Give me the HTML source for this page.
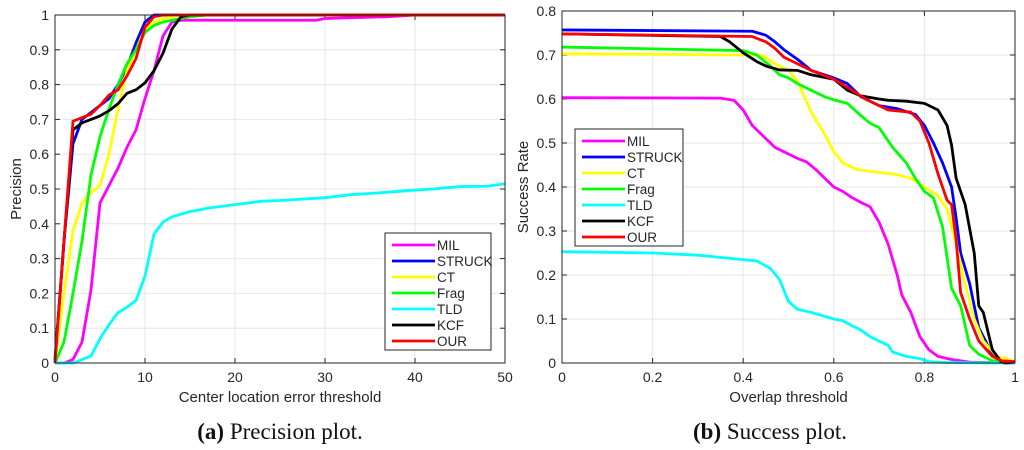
<!DOCTYPE html>
<html><head><meta charset="utf-8"><style>
html,body{margin:0;padding:0;background:#fff;width:1024px;height:450px;overflow:hidden}
svg{display:block}
</style></head><body>
<svg id="root" width="1024" height="450" xmlns="http://www.w3.org/2000/svg" font-family="Liberation Sans, sans-serif">
<g id="pa"></g>
<g id="pb"></g>
<text x="280" y="439" text-anchor="middle" font-family="Liberation Serif, serif" font-size="23" fill="#111"><tspan font-weight="bold">(a)</tspan> Precision plot.</text>
<text x="770" y="439" text-anchor="middle" font-family="Liberation Serif, serif" font-size="23" fill="#111"><tspan font-weight="bold">(b)</tspan> Success plot.</text>
</svg>
<script>
const seriesNames=["MIL","STRUCK","CT","Frag","TLD","KCF","OUR"];
const seriesColors=["#ff00ff","#0000ff","#ffff00","#00ff00","#00ffff","#000000","#ff0000"];
const precTicksX=[0,10,20,30,40,50];
const precTicksY=[0,0.1,0.2,0.3,0.4,0.5,0.6,0.7,0.8,0.9,1];
const precMIL=[[0,0],[1,0],[2,0.01],[3,0.06],[4,0.21],[5,0.46],[6,0.51],[7,0.56],[8,0.62],[9,0.67],[10,0.76],[11,0.84],[12,0.94],[13,0.98],[14,0.985],[29,0.985],[30,0.99],[37,0.995],[40,1],[50,1]];
const precSTRUCK=[[0,0],[1,0.35],[2,0.63],[3,0.70],[4,0.72],[5,0.74],[6,0.76],[7,0.80],[8,0.85],[9,0.92],[10,0.98],[11,1],[50,1]];
const precCT=[[0,0],[1,0.2],[2,0.38],[3,0.46],[4,0.49],[5,0.51],[6,0.60],[7,0.73],[8,0.84],[9,0.90],[10,0.96],[11,0.98],[12,0.99],[14,1],[50,1]];
const precFrag=[[0,0],[1,0.06],[2,0.2],[3,0.35],[4,0.54],[5,0.65],[6,0.73],[7,0.80],[8,0.86],[9,0.90],[10,0.95],[11,0.97],[12,0.98],[13,0.985],[15,0.995],[17,1],[50,1]];
const precTLD=[[0,0],[2,0],[4,0.02],[5,0.07],[6,0.11],[7,0.145],[8,0.16],[9,0.18],[10,0.25],[11,0.37],[12,0.405],[13,0.42],[15,0.435],[17,0.445],[20,0.455],[23,0.465],[25,0.467],[30,0.475],[33,0.484],[35,0.487],[40,0.497],[42,0.5],[45,0.507],[48,0.508],[50,0.515]];
const precKCF=[[0,0.01],[1,0.35],[2,0.67],[3,0.69],[4,0.70],[5,0.71],[6,0.725],[7,0.745],[8,0.775],[9,0.785],[10,0.805],[11,0.84],[12,0.89],[13,0.96],[14,0.995],[15,1],[50,1]];
const precOUR=[[0,0],[1,0.35],[2,0.695],[3,0.705],[4,0.715],[5,0.74],[6,0.77],[7,0.785],[8,0.825],[9,0.875],[10,0.965],[11,0.995],[12,1],[50,1]];
const succTicksX=[0,0.2,0.4,0.6,0.8,1];
const succTicksY=[0,0.1,0.2,0.3,0.4,0.5,0.6,0.7,0.8];
const succMIL=[[0,0.603],[0.35,0.602],[0.38,0.597],[0.40,0.575],[0.42,0.54],[0.45,0.51],[0.47,0.49],[0.5,0.475],[0.52,0.465],[0.54,0.457],[0.56,0.44],[0.58,0.42],[0.6,0.40],[0.62,0.39],[0.64,0.376],[0.66,0.365],[0.68,0.355],[0.7,0.32],[0.72,0.27],[0.74,0.2],[0.75,0.155],[0.77,0.115],[0.79,0.06],[0.81,0.03],[0.83,0.015],[0.86,0.008],[0.9,0.002],[1,0]];
const succSTRUCK=[[0,0.757],[0.42,0.754],[0.45,0.745],[0.47,0.73],[0.49,0.712],[0.52,0.69],[0.55,0.665],[0.6,0.648],[0.63,0.635],[0.66,0.605],[0.7,0.585],[0.74,0.578],[0.78,0.565],[0.8,0.54],[0.82,0.5],[0.84,0.455],[0.86,0.4],[0.87,0.33],[0.88,0.25],[0.9,0.18],[0.92,0.08],[0.95,0.02],[0.97,0.005],[1,0]];
const succCT=[[0,0.703],[0.4,0.70],[0.44,0.70],[0.47,0.68],[0.5,0.665],[0.52,0.64],[0.55,0.57],[0.58,0.52],[0.6,0.48],[0.62,0.455],[0.65,0.44],[0.7,0.433],[0.73,0.43],[0.77,0.42],[0.8,0.40],[0.83,0.38],[0.85,0.35],[0.87,0.27],[0.89,0.18],[0.91,0.1],[0.93,0.05],[0.96,0.015],[0.98,0.01],[1,0.003]];
const succFrag=[[0,0.718],[0.4,0.71],[0.43,0.70],[0.46,0.675],[0.48,0.655],[0.5,0.648],[0.52,0.635],[0.55,0.62],[0.58,0.605],[0.6,0.598],[0.63,0.59],[0.66,0.562],[0.68,0.545],[0.7,0.535],[0.73,0.49],[0.76,0.455],[0.78,0.42],[0.8,0.39],[0.82,0.375],[0.84,0.31],[0.86,0.17],[0.88,0.13],[0.9,0.04],[0.92,0.02],[0.95,0.005],[1,0.002]];
const succTLD=[[0,0.253],[0.2,0.25],[0.3,0.245],[0.4,0.235],[0.43,0.232],[0.46,0.215],[0.48,0.19],[0.5,0.14],[0.52,0.122],[0.55,0.115],[0.6,0.10],[0.62,0.096],[0.64,0.085],[0.66,0.075],[0.68,0.06],[0.7,0.05],[0.72,0.04],[0.73,0.025],[0.76,0.015],[0.79,0.01],[0.81,0.003],[0.85,0.001],[1,0]];
const succKCF=[[0,0.748],[0.35,0.742],[0.37,0.73],[0.4,0.705],[0.43,0.685],[0.45,0.675],[0.48,0.666],[0.52,0.665],[0.55,0.655],[0.6,0.645],[0.63,0.62],[0.66,0.607],[0.7,0.60],[0.72,0.597],[0.76,0.595],[0.8,0.59],[0.83,0.575],[0.85,0.54],[0.86,0.495],[0.87,0.42],[0.89,0.36],[0.91,0.25],[0.92,0.13],[0.93,0.115],[0.95,0.03],[0.97,0.002],[0.98,0],[1,0.002]];
const succOUR=[[0,0.748],[0.42,0.742],[0.45,0.73],[0.47,0.715],[0.49,0.695],[0.51,0.685],[0.55,0.665],[0.6,0.645],[0.64,0.62],[0.67,0.6],[0.7,0.585],[0.72,0.575],[0.77,0.57],[0.79,0.55],[0.81,0.5],[0.83,0.43],[0.85,0.37],[0.86,0.36],[0.87,0.28],[0.88,0.16],[0.9,0.1],[0.92,0.05],[0.95,0.015],[0.97,0.005],[1,0.003]];

const NS="http://www.w3.org/2000/svg";
function mk(p,tag,a){const e=document.createElementNS(NS,tag);for(const k in a)e.setAttribute(k,a[k]);p.appendChild(e);return e;}

function plot(g,box,xd,yd,ticksX,ticksY,series,xTitle,yTitle,fmtX,leg,key){
  const sx=v=>box.x0+(v-xd[0])/(xd[1]-xd[0])*(box.x1-box.x0);
  const sy=v=>box.y1-(v-yd[0])/(yd[1]-yd[0])*(box.y1-box.y0);
  ticksX.forEach(t=>{
    const l=mk(g,'line',{x1:sx(t),x2:sx(t),y1:box.y0,y2:box.y1,stroke:'#e6e6e6','stroke-width':1});
    
    
    const tx=mk(g,'text',{x:sx(t),y:box.y1+19,'text-anchor':'middle','font-size':14,fill:'#262626'});
    tx.textContent=fmtX(t);
    
    
    mk(g,'line',{x1:sx(t),x2:sx(t),y1:box.y1,y2:box.y1-5,stroke:'#262626'});
    mk(g,'line',{x1:sx(t),x2:sx(t),y1:box.y0,y2:box.y0+5,stroke:'#262626'});
  });
  ticksY.forEach(t=>{
    const l=mk(g,'line',{x1:box.x0,x2:box.x1,y1:sy(t),y2:sy(t),stroke:'#e6e6e6','stroke-width':1});
    
    
    const tx=mk(g,'text',{x:box.x0-6,y:sy(t)+5,'text-anchor':'end','font-size':14,fill:'#262626'});
    tx.textContent=String(t);
    
    
    mk(g,'line',{x1:box.x0,x2:box.x0+5,y1:sy(t),y2:sy(t),stroke:'#262626'});
    mk(g,'line',{x1:box.x1,x2:box.x1-5,y1:sy(t),y2:sy(t),stroke:'#262626'});
  });
  series.forEach((s,i)=>{
    const p=mk(g,'polyline',{points:s.map(d=>sx(d[0])+','+sy(d[1])).join(' '),fill:'none',stroke:seriesColors[i],'stroke-width':2.8,'stroke-linejoin':'round'});
    
    
  });
  const fr=mk(g,'rect',{x:box.x0,y:box.y0,width:box.x1-box.x0,height:box.y1-box.y0,fill:'none',stroke:'#262626','stroke-width':1});
  
  
  const xt=mk(g,'text',{x:(box.x0+box.x1)/2,y:box.y1+39,'text-anchor':'middle','font-size':15,fill:'#262626'});
  xt.textContent=xTitle;
  
  
  const cy=(box.y0+box.y1)/2, cx=box.x0-34;
  const yt=mk(g,'text',{x:cx,y:cy,'text-anchor':'middle','font-size':15,fill:'#262626',transform:'rotate(-90 '+cx+' '+cy+')'});
  yt.textContent=yTitle;
  
  
  const lg=mk(g,'g',{});
  
  
  mk(lg,'rect',{x:leg.x,y:leg.y,width:leg.w,height:leg.h,fill:'#fff',stroke:'#262626','stroke-width':1});
  seriesNames.forEach((n,i)=>{
    const y=leg.y+12+i*16;
    const e=mk(lg,'g',{});
    
    
    mk(e,'line',{x1:leg.x+7,x2:leg.x+50,y1:y,y2:y,stroke:seriesColors[i],'stroke-width':2.8});
    const t=mk(e,'text',{x:leg.x+52,y:y+5,'font-size':13.5,fill:'#262626'});
    t.textContent=n;
  });
}
plot(document.getElementById('pa'),{x0:55,x1:505,y0:15,y1:363},[0,50],[0,1],precTicksX,precTicksY,
  [precMIL,precSTRUCK,precCT,precFrag,precTLD,precKCF,precOUR],'Center location error threshold','Precision',t=>String(t),{x:385,y:233,w:106,h:117},'precision');
plot(document.getElementById('pb'),{x0:562,x1:1015,y0:11,y1:363},[0,1],[0,0.8],succTicksX,succTicksY,
  [succMIL,succSTRUCK,succCT,succFrag,succTLD,succKCF,succOUR],'Overlap threshold','Success Rate',t=>String(t),{x:575,y:129,w:108,h:117},'success');
</script>
</body></html>
